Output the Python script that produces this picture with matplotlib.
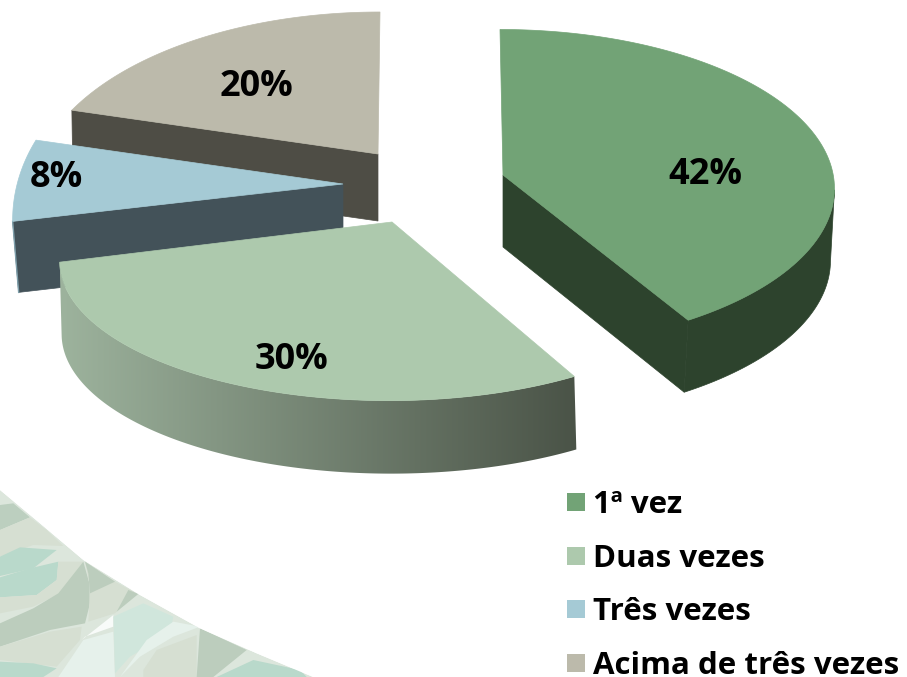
"""
Exploded 3D pie of visit frequency, drawn from polygons in pixel space
"""

import matplotlib
import matplotlib.pyplot as plt
import numpy as np
from matplotlib.patches import Polygon, Rectangle

matplotlib.use('Agg')

# Data
categories = ['1ª vez', 'Duas vezes', 'Três vezes', 'Acima de três vezes']
values = [42, 30, 8, 20]
labels = ['42%', '30%', '8%', '20%']

top_colors = ['#72A376', '#ADC9AD', '#A5CAD5', '#BCBAAB']
side_colors = ['#2D432D', '#4A5347', '#435259', '#4E4D45']

# Geometry of each slice: centre x, centre y, radius x, radius y, apex, depth, lean
PERSPECTIVE = 0.18
geometry = [
    (500, 160, 329, 154, (503, 175), 72, -4),
    (389, 236, 324, 135, (392, 222), 73, 2),
    (218, 189, 202, 167, (343, 184), 71, 6),
    (380, 162, 342, 177, (378, 154), 67, 1),
]
label_pos = [(705, 175), (292, 360), (56, 178), (256, 87)]
legend_y = [502, 556, 609, 663]
legend_text_dy = 3

FONT = 'Open Sans'

# Leaf pattern in the corner, coordinates of a 3x crop starting at (0, 440)
corner_outline = [(0, 150), (120, 250), (250, 360), (420, 465), (600, 565), (770, 640),
                  (940, 711), (0, 711)]
leaves = [
    ('#BCCFBF', [(0, 195), (40, 190), (90, 232), (0, 270)]),
    ('#D6DFD2', [(0, 270), (90, 232), (140, 270), (190, 318), (100, 315), (0, 350)]),
    ('#B9D9CB', [(0, 350), (60, 322), (170, 330), (100, 385), (0, 408)]),
    ('#B9D9CB', [(0, 412), (90, 385), (175, 365), (170, 420), (110, 465), (0, 472)]),
    ('#D6DFD2', [(0, 472), (110, 465), (170, 420), (175, 365), (250, 365), (200, 450),
                 (100, 500), (0, 520)]),
    ('#BCCDBD', [(0, 550), (100, 505), (175, 460), (250, 365), (268, 430), (270, 490),
                 (255, 550), (150, 570), (0, 620)]),
    ('#D6DFD2', [(255, 365), (345, 425), (410, 460), (345, 520), (265, 545), (270, 440)]),
    ('#BCCDBD', [(255, 365), (345, 425), (270, 460), (265, 400)]),
    ('#BCCDBD', [(350, 515), (385, 450), (415, 462)]),
    ('#F8FBF9', [(245, 600), (340, 525), (340, 560), (255, 590)]),
    ('#E6F1EB', [(175, 711), (250, 600), (340, 575), (345, 711)]),
    ('#D0E6DC', [(340, 530), (430, 490), (520, 530), (510, 580), (390, 650), (345, 700)]),
    ('#D6DFD2', [(0, 620), (150, 575), (245, 560), (240, 600), (170, 680), (0, 660)]),
    ('#B9D9CB', [(0, 665), (100, 670), (170, 685), (130, 711), (0, 711)]),
    ('#E6F1EB', [(360, 711), (420, 650), (520, 590), (600, 560), (520, 545), (440, 600)]),
    ('#D6DFD2', [(430, 690), (470, 630), (590, 585), (590, 711), (430, 711)]),
    ('#BCCDBD', [(590, 711), (600, 565), (740, 630), (640, 711)]),
    ('#B9D9CB', [(650, 711), (760, 660), (900, 690), (920, 711)]),
]


def crop_to_pixels(points):
    return [(x / 3, 440 + y / 3) for x, y in points]


def arc_points(start, end, geo, n=160):
    """Project an arc of the pie rim to pixel coordinates (angles clockwise from top)"""
    cx, cy, rx, ry = geo[:4]
    t = np.radians(np.linspace(start, end, n))
    s = 1 / (1 + PERSPECTIVE * np.cos(t))
    return cx + rx * np.sin(t) * s, cy - ry * np.cos(t) * s


fig = plt.figure(figsize=(9.07, 6.77), dpi=100)
ax = fig.add_axes([0, 0, 1, 1])
ax.set_xlim(0, 907)
ax.set_ylim(677, 0)
ax.axis('off')

# Decoration in the bottom left corner
ax.add_patch(Polygon(crop_to_pixels(corner_outline), closed=True, fc='#DCE6DC', ec='none', zorder=1))
for color, points in leaves:
    ax.add_patch(Polygon(crop_to_pixels(points), closed=True, fc=color, ec='none', zorder=2))
ax.add_patch(Polygon([(0, 440), (907, 440), (907, 677), (313, 677)] + crop_to_pixels(corner_outline)[::-1][2:],
                     closed=True, fc='white', ec='none', zorder=3))

# Slices, back to front
bounds = np.cumsum([0] + values) * 3.6
for i in [3, 2, 1, 0]:
    start, end = bounds[i], bounds[i + 1]
    geo = geometry[i]
    apex, depth, lean = geo[4], geo[5], geo[6]
    x, y = arc_points(start, end, geo)
    z = 5 + (3 - i) * 2

    # Outer wall
    if i == 0:
        k = np.argmax(x)
        ax.fill(np.r_[x[k:], x[k:][::-1] + lean], np.r_[y[k:], y[k:][::-1] + depth],
                color=side_colors[0], lw=0.5, zorder=z)
    elif i == 1:
        wall = Polygon(np.c_[np.r_[x, x[::-1] + lean], np.r_[y, y[::-1] + depth]],
                       closed=True, fc='none', ec='none', zorder=z)
        ax.add_patch(wall)
        ramp = np.linspace(0, 1, 256)[None, :, None]
        light = np.array(matplotlib.colors.to_rgb('#9DB39D'))
        dark = np.array(matplotlib.colors.to_rgb(side_colors[1]))
        img = ax.imshow(light + (dark - light) * ramp, extent=(x.min(), x.max() + lean, 677, 0),
                        aspect='auto', zorder=z)
        img.set_clip_path(wall)
        ax.set_xlim(0, 907)
        ax.set_ylim(677, 0)

    # Inner wall facing the viewer
    if i != 1:
        w = -1 if i == 0 else 0
        ax.fill([apex[0], x[w], x[w] + lean, apex[0]],
                [apex[1], y[w], y[w] + depth, apex[1] + depth],
                color=side_colors[i], lw=0.5, zorder=z)
    if i == 2:
        ax.plot([x[0], x[0] + lean], [y[0], y[0] + depth], color='#7FA0AC', lw=1, zorder=z)

    ax.fill(np.r_[apex[0], x], np.r_[apex[1], y], color=top_colors[i], lw=0.5, zorder=z + 1)

for text, (lx, ly) in zip(labels, label_pos):
    ax.text(lx, ly, text, fontsize=26, fontweight='bold', family=FONT,
            ha='center', va='center', color='black', zorder=30)

# Legend
for name, color, ly in zip(categories, top_colors, legend_y):
    ax.add_patch(Rectangle((567, ly - 9), 18, 18, fc=color, ec='none', zorder=30))
    ax.text(593, ly + legend_text_dy, name, fontsize=22.5, fontweight='bold', family=FONT,
            ha='left', va='center', color='black', zorder=30)

plt.savefig('out.png', dpi=100)
plt.close()
